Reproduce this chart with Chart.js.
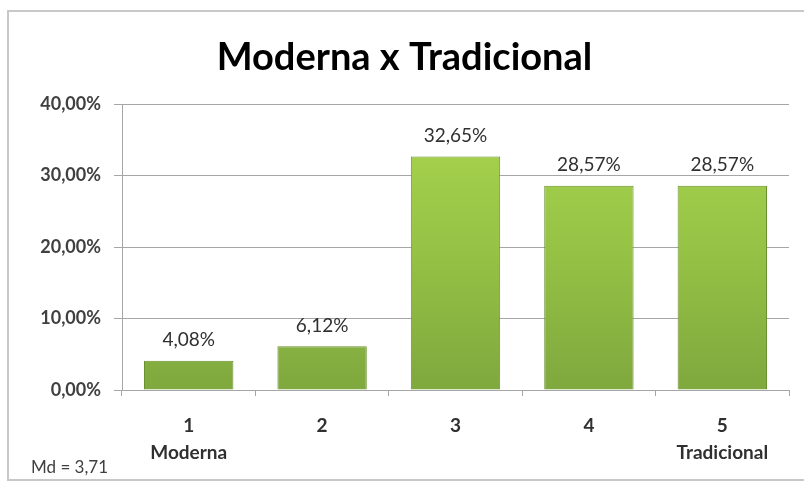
<!DOCTYPE html>
<html>
<head>
<meta charset="utf-8">
<script src="https://cdn.jsdelivr.net/npm/chart.js@4"></script>
<style>
  body { margin: 0; background: #fff; }
  #box { position: absolute; left: 0; top: 0; width: 804px; height: 483px; }
  #frame { position: absolute; left: 7px; top: 10px; width: 810px; height: 471px;
           border: 2px solid #c8c8c8; box-sizing: border-box; }
  #md { position: absolute; left: 31px; top: 456px; font: 17px Lato, sans-serif; color: #404040; }
</style>
</head>
<body>
<div id="box">
  <div id="frame"></div>
  <canvas id="meuGrafico" width="804" height="483"></canvas>
  <div id="md">Md = 3,71</div>
</div>
<script>
const categorias = [["1", "Moderna"], ["2"], ["3"], ["4"], ["5", "Tradicional"]];
const valores = [4.08, 6.12, 32.65, 28.57, 28.57];
const rotulosY = [0, 10, 20, 30, 40];

function pct(v) {
  return v.toFixed(2).replace(".", ",") + "%";
}

/* rotulos em cima das barras */
const rotulos = {
  id: "rotulos",
  afterDatasetsDraw(chart) {
    const c = chart.ctx;
    const meta = chart.getDatasetMeta(0);
    c.save();
    c.font = "19px Lato, sans-serif";
    c.fillStyle = "#303030";
    c.textAlign = "center";
    c.textBaseline = "bottom";
    meta.data.forEach((bar, i) => {
      c.fillText(pct(valores[i]), bar.x, bar.y - 11);
    });
    c.restore();
  }
};

function corBarra(context) {
  const area = context.chart.chartArea;
  if (!area) return "#93bf47";
  const g = context.chart.ctx.createLinearGradient(0, area.top, 0, area.bottom);
  g.addColorStop(0, "#abd651");
  g.addColorStop(0.5, "#96c345");
  g.addColorStop(1, "#7fa83e");
  return g;
}

const ctx = document.getElementById("meuGrafico");

new Chart(ctx, {
  type: "bar",
  data: {
    labels: categorias,
    datasets: [
      {
        data: valores,
        backgroundColor: corBarra,
        borderColor: "#6b8f2f",
        borderWidth: 1,
        categoryPercentage: 1,
        barPercentage: 0.67,
      },
    ],
  },
  plugins: [rotulos],
  options: {
    responsive: false,
    animation: false,
    layout: { padding: { left: 20, right: 15, top: 0, bottom: 8 } },
    plugins: {
      legend: { display: false },
      tooltip: { enabled: false },
      title: {
        display: true,
        text: "Moderna x Tradicional",
        color: "#000",
        font: { family: "Lato, sans-serif", size: 38, weight: "bold", lineHeight: 1.2 },
        padding: { top: 35, bottom: 23.4 },
      },
    },
    scales: {
      y: {
        min: 0,
        max: 40,
        afterFit(scale) { scale.width = 102; },
        afterBuildTicks(scale) { scale.ticks = rotulosY.map(v => ({ value: v })); },
        ticks: {
          callback: v => pct(v),
          color: "#404040",
          font: { family: "Lato, sans-serif", size: 18, weight: "bold" },
          padding: 13,
        },
        grid: { color: "#a6a6a6", tickLength: 8, drawTicks: true },
        border: { color: "#a6a6a6" },
      },
      x: {
        afterFit(scale) { scale.height = 85; },
        ticks: {
          color: "#303030",
          font: { family: "Lato, sans-serif", size: 19, weight: "bold", lineHeight: 1.42 },
          padding: 16,
        },
        grid: { display: true, drawOnChartArea: false, offset: true, color: "#a6a6a6", tickLength: 6 },
        border: { color: "#a6a6a6" },
      },
    },
  },
});
</script>
</body>
</html>
